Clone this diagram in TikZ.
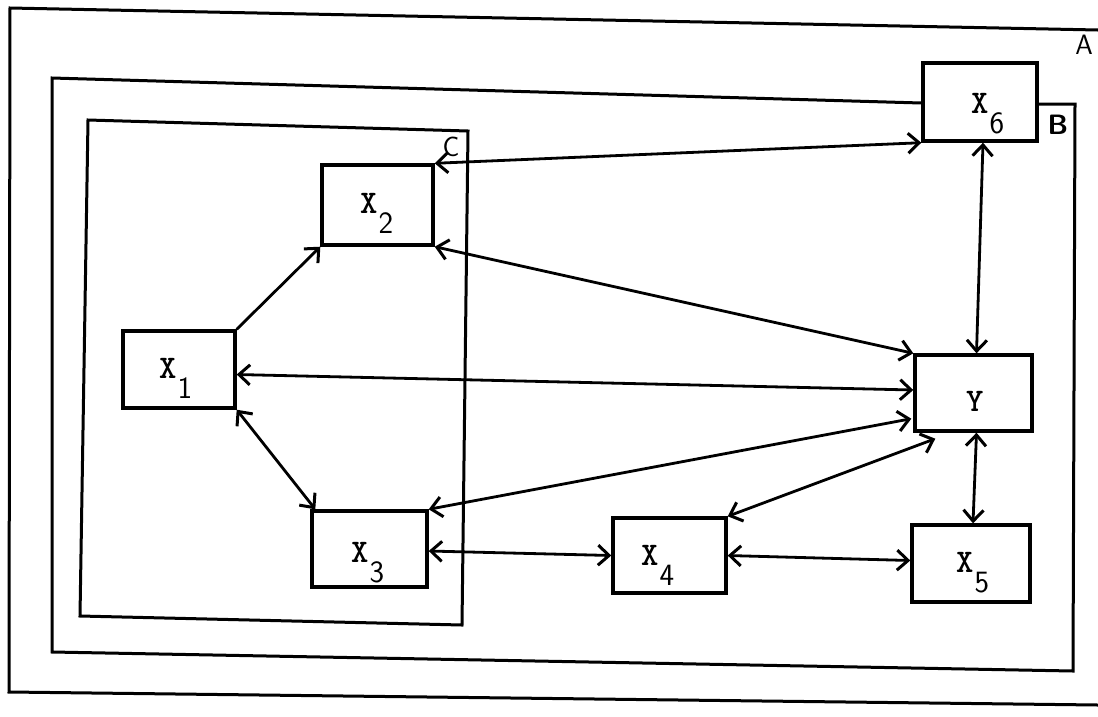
\documentclass[tikz,border=0pt]{standalone}
\usepackage{fontspec}
\usetikzlibrary{arrows.meta,calc}
\newcommand\xlab[1]{{\ttfamily\bfseries\fontsize{33}{33}\selectfont X}\kern1pt\raisebox{-20pt}{\sffamily\fontsize{31}{31}\selectfont #1}}
\begin{document}
\begin{tikzpicture}[x=1pt,y=-1pt,
  frame/.style={line width=3pt, line join=miter},
  box/.style={draw, line width=3.4pt, rectangle, inner sep=0pt},
  link/.style={line width=2.8pt,
    {Straight Barb[length=11pt,width=20pt,line width=3pt]}-{Straight Barb[length=11pt,width=20pt,line width=3pt]}},
  onelink/.style={line width=2.8pt,
    -{Straight Barb[length=11pt,width=20pt,line width=3pt]}},
  lbl/.style={anchor=base west, inner sep=0pt},
  letter/.style={font=\sffamily\fontsize{28}{28}\selectfont, inner sep=0pt}]
\useasboundingbox (0,0) rectangle (1098,716);

% boxes
\node[box, minimum width=114pt, minimum height=78pt] (x6) at (980,102) {};
\node[box, minimum width=111pt, minimum height=80pt] (x2) at (377.5,205) {};
\node[box, minimum width=112pt, minimum height=77pt] (x1) at (179,369.5) {};
\node[box, minimum width=117pt, minimum height=76pt] (y)  at (973.5,393) {};
\node[box, minimum width=115pt, minimum height=76pt] (x3) at (369.5,549) {};
\node[box, minimum width=113pt, minimum height=75pt] (x4) at (669.5,555.5) {};
\node[box, minimum width=118pt, minimum height=77pt] (x5) at (971,563.5) {};

% frames
\coordinate (a1) at (1098,30);
\coordinate (a2) at (10,8);
\coordinate (a3) at (9,692);
\coordinate (a4) at (1098,705);
\draw[frame] (a1) -- (a2) -- (a3) -- (a4);
\node[letter] (la) at (1084,45) {A};

\coordinate (b0) at (1075,104);
\coordinate (b1) at (1073,671);
\coordinate (b2) at (52,652);
\coordinate (b3) at (52,78);
\draw[frame] (x6.south east |- 0,104) -- (b0) -- (b1) -- (b2) -- (b3) -- (x6.west |- 0,103);
\node[letter, font=\sffamily\bfseries\fontsize{28}{28}\selectfont] (lb) at (1058,125) {B};

\coordinate (c0) at (468,131);
\coordinate (c1) at (462,625);
\coordinate (c2) at (80,616);
\coordinate (c3) at (88,120);
\draw[frame] (c0) -- (c1) -- (c2) -- (c3) -- cycle;
\node[letter] (lc) at (451,147) {C};

% labels
\node[lbl] (l6) at (971,113) {\xlab{6}};
\node[lbl] (l2) at (360,213) {\xlab{2}};
\node[lbl] (l1) at (159,378) {\xlab{1}};
\node[lbl] (ly) at (966,411) {{\ttfamily\bfseries\fontsize{33}{33}\selectfont Y}};
\node[lbl] (l3) at (351,562) {\xlab{3}};
\node[lbl] (l4) at (641,565) {\xlab{4}};
\node[lbl] (l5) at (956,572) {\xlab{5}};

% connectors
\draw[onelink] (x1.north east) -- (x2.south west);
\draw[link] (x1.south east) -- ($(x3.north west)+(5,0)$);
\draw[link] ($(x1.east)+(0,5)$) -- ($(y.west)+(0,-3)$);
\draw[link] (x2.north east) -- (x6.south west);
\draw[link] (x2.south east) -- (y.north west);
\draw[link] (x3.north east) -- ($(y.south west)+(-2,-14)$);
\draw[link] ($(x3.east)+(0,2)$) -- (x4.west);
\draw[link] (x4.north east) -- ($(y.south west)+(22,6)$);
\draw[link] (x4.east) -- ($(x5.west)+(0,-3)$);
\draw[link] ($(x6.south)+(3,0)$) -- ($(y.north)+(3,0)$);
\draw[link] ($(y.south)+(3,0)$) -- ($(x5.north)+(2,0)$);
\end{tikzpicture}
\end{document}
